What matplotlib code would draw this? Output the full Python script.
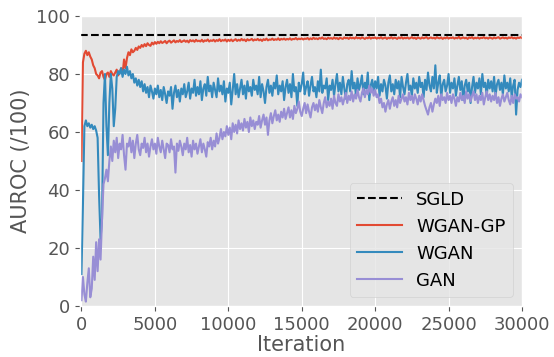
import numpy as np
import matplotlib
matplotlib.use("Agg")
import matplotlib.pyplot as plt

plt.style.use("ggplot")

iterations = np.arange(0, 30001, 100)

sgld_value = 93.3

wgan_gp = [
    50, 84, 87, 88, 86.5, 87.5, 86, 85, 83, 82,
    80, 79.5, 78.5, 80.5, 81, 79, 78, 80, 80.5, 79,
    81, 80, 79.5, 80.5, 81.5, 79.5, 80.5, 82, 80, 85,
    82, 85.5, 87.5, 86.5, 88.5, 87.5, 88, 89, 88.3, 89.5,
    89, 90, 89.4, 90.3, 89.6, 90.6, 90, 89.7, 90.8, 90.2,
    91, 90.4, 91.1, 90.6, 91.3, 90.7, 91, 91.4, 90.6, 91.2,
    91.5, 90.8, 91.2, 91.6, 90.9, 91.4, 91.1, 91.7, 91, 91.3,
    91.6, 91.1, 91.5, 90.9, 91.7, 91.3, 91.6, 91.1, 91.8, 91.3,
    91.5, 91.2, 91.8, 91.1, 91.6, 91.4, 91.9, 91.2, 91.6, 91.4,
    91.8, 91.2, 91.7, 91.4, 92, 91.3, 91.7, 91.5, 91.9, 91.2,
    91.8, 91.4, 91.9, 91.3, 91.7, 92, 91.4, 91.8, 91.5, 92.1,
    91.6, 91.9, 91.3, 92, 91.6, 91.8, 92.1, 91.5, 91.9, 91.7,
    92.1, 91.6, 91.9, 91.4, 92, 91.7, 92.2, 91.6, 91.9, 91.8,
    92.2, 91.7, 92, 91.8, 92.3, 91.7, 92.1, 91.9, 92.2, 91.8,
    92.1, 91.9, 92.3, 91.8, 92.1, 92, 92.4, 91.9, 92.2, 92,
    92.3, 91.9, 92.2, 92.1, 92.4, 91.9, 92.3, 92, 92.5, 92.1,
    92.3, 92, 92.4, 92.2, 92.6, 92.1, 92.3, 92, 92.5, 92.2,
    92.4, 92.1, 92.6, 92.2, 92.4, 92, 92.5, 92.3, 92.1, 92.6,
    92.3, 92.5, 92.1, 92.6, 92.3, 92.5, 92.2, 92.7, 92.3, 92.5,
    92.2, 92.6, 92.4, 92.1, 92.5, 92.3, 92.7, 92.2, 92.5, 92.4,
    92.6, 92.2, 92.5, 92.3, 92.7, 92.2, 92.4, 92.6, 92.1, 92.5,
    92.3, 92.7, 92.2, 92.5, 92.4, 92.1, 92.6, 92.3, 92.7, 92.2,
    92.5, 92.3, 92.6, 92.2, 92.4, 92.7, 92.3, 92.5, 92.1, 92.6,
    92.4, 92.2, 92.6, 92.3, 92.5, 92.7, 92.2, 92.4, 92.6, 92.3,
    92.5, 92.2, 92.7, 92.4, 92.3, 92.6, 92.1, 92.5, 92.3, 92.7,
    92.2, 92.5, 92.4, 92.6, 92.2, 92.5, 92.3, 92.8, 92.2, 92.4,
    92.6, 92.3, 92.5, 92.1, 92.6, 92.4, 92.7, 92.2, 92.5, 92.3,
    92.6, 92.2, 92.5, 92.4, 92.7, 92.3, 92.5, 92.2, 92.6, 92.4,
    92.2, 92.6, 92.3, 92.5, 92.7, 92.2, 92.4, 92.6, 92.3, 92.5,
    92.2, 92.6, 92.4, 92.7, 92.3, 92.5, 92.2, 92.6, 92.4, 92.7,
    92.4,
]

wgan = [
    11, 35, 62, 64, 62, 63, 61.5, 62.5, 61, 62,
    60.5, 58, 38, 23, 30, 70, 80, 62, 52, 70,
    80, 75, 62, 68, 79, 81, 80, 82, 79, 81.5,
    80, 82.5, 79.5, 81, 78.5, 80, 77, 78.5, 76, 78,
    75.5, 77.5, 74, 76.5, 73.5, 75.5, 72, 76, 74, 71.5,
    75, 73, 76, 72, 74.5, 71, 75.5, 73, 70, 74,
    72.5, 75.5, 68, 73.5, 76, 72, 74.5, 70.5, 75, 73,
    76.5, 72, 74, 77, 71.5, 75, 73.5, 78, 72.5, 75.5,
    73, 77.5, 71, 75, 76.5, 72.5, 79, 74, 76, 72,
    77, 74.5, 72, 78.5, 74, 76, 73, 77.5, 70.5, 75,
    73.5, 77, 69.5, 74.5, 80, 73, 76.5, 72, 75, 78,
    73, 76, 71.5, 77.5, 74, 75.5, 72.5, 78, 74.5, 76,
    73, 79, 72, 76.5, 74, 70, 75.5, 78, 73.5, 76,
    72.5, 77, 75, 79.5, 73, 76, 74, 77.5, 71, 75.5,
    78, 73.5, 76.5, 72, 80, 74, 75.5, 69, 77, 74,
    76.5, 80.5, 73, 75.5, 77.5, 72.5, 76, 79, 74, 75.5,
    72, 77.5, 74, 81.5, 73.5, 76, 75, 78.5, 71, 76,
    74.5, 78, 72.5, 76.5, 80, 74, 77, 73, 79, 75,
    71.5, 76.5, 78, 74, 81, 75, 77, 72.5, 78.5, 74.5,
    76.5, 79.5, 73, 77, 75, 80.5, 71, 76, 78, 74,
    77.5, 75, 79, 72.5, 76.5, 74, 78, 76, 71.5, 77,
    79.5, 74, 76.5, 73, 78, 75, 77.5, 72, 79, 75.5,
    73, 77, 80, 74.5, 76, 72.5, 78.5, 75, 77, 73.5,
    79, 75.5, 77, 72, 78, 74.5, 80.5, 76, 74, 79,
    75, 83, 73.5, 77, 79.5, 72, 76.5, 78, 74, 76,
    80, 73.5, 77, 75, 78.5, 72.5, 76, 79, 74.5, 77.5,
    71, 76, 78, 74, 77, 70, 75.5, 79, 73.5, 77,
    75, 78.5, 73, 80, 75.5, 77, 72.5, 78, 75, 77.5,
    74, 79, 72.5, 76.5, 78, 74.5, 77, 73, 79.5, 75,
    77, 74, 78.5, 72, 76, 78, 66, 74.5, 77, 75.5,
    78,
]

gan = [
    2, 10, 4, 1.5, 8, 13, 3, 6, 17, 9,
    22, 12, 23, 16, 30, 42, 44, 47, 43, 50,
    55, 50, 57, 53, 58, 51, 56, 54, 59, 52,
    47, 56, 55, 58, 53, 57, 51, 56, 59, 54,
    52, 56, 54.5, 58, 53, 56, 51.5, 55, 57.5, 54,
    56, 52.5, 58, 55, 53, 57, 54, 51, 56, 55.5,
    53, 57.5, 54, 55, 46, 56, 53.5, 57, 55, 52,
    56, 54, 58, 53, 55.5, 51.5, 57, 54, 56, 52.5,
    55, 57.5, 53, 56, 54, 51.5, 56.5, 55, 58, 54,
    57, 55, 59.5, 56, 58, 61, 57.5, 60, 58.5, 62,
    59, 61.5, 57.5, 63, 60, 62.5, 59.5, 64, 61, 63,
    60.5, 64.5, 61.5, 63.5, 60, 65, 62, 64, 61, 63.5,
    62.5, 65.5, 61.5, 64, 66, 62.5, 65, 59, 64, 66.5,
    63, 65.5, 67.5, 64, 66, 63.5, 67, 65, 68, 64.5,
    66.5, 68.5, 65, 67.5, 64.5, 69, 66.5, 68, 70.5, 67,
    65.5, 68, 70, 66.5, 69.5, 67, 65, 68.5, 70, 67.5,
    69.5, 67, 71, 68.5, 66.5, 70, 72, 68.5, 70.5, 69,
    71.5, 68, 72.5, 70, 69, 73, 70.5, 72, 69.5, 71.5,
    73.5, 70, 72.5, 71, 74, 70.5, 73, 71.5, 74.5, 72,
    70.5, 73.5, 75, 72, 74.5, 73, 76, 73.5, 75, 72.5,
    74.5, 72, 73, 70, 71.5, 68.5, 70, 67, 69.5, 71,
    68, 70.5, 72, 69, 71, 68.5, 72.5, 70, 71.5, 73,
    70.5, 72, 69.5, 73.5, 71, 72.5, 70, 73, 71.5, 69.5,
    72.5, 70.5, 73, 71, 69, 67.5, 66, 68.5, 70, 67,
    69.5, 71.5, 70, 72.5, 69, 73, 71, 72, 70, 73.5,
    71, 72.5, 70, 73, 71.5, 69, 72, 70.5, 73.5, 71,
    72.5, 70, 74, 71.5, 73, 70.5, 72.5, 74, 71, 73,
    70, 72.5, 71, 73.5, 69.5, 72, 74, 71, 73, 70.5,
    72.5, 71, 73.5, 70, 72, 69, 71.5, 73, 70.5, 72,
    73.5, 71, 69.5, 72.5, 70, 73, 71.5, 72, 70.5, 73,
    72,
]

fig = plt.figure(figsize=(5.54, 3.57), dpi=100)
ax = fig.add_axes([0.1444, 0.1429, 0.7978, 0.8123])

ax.axhline(sgld_value, color="black", linestyle="--", linewidth=1.5, label="SGLD")
ax.plot(iterations, wgan_gp, color="#E24A33", linewidth=1.5, label="WGAN-GP")
ax.plot(iterations, wgan, color="#348ABD", linewidth=1.5, label="WGAN")
ax.plot(iterations, gan, color="#988ED5", linewidth=1.5, label="GAN")

ax.set_xlim(-100, 30000)
ax.set_ylim(0, 100)
ax.set_xticks([0, 5000, 10000, 15000, 20000, 25000, 30000])
ax.set_yticks([0, 20, 40, 60, 80, 100])
ax.tick_params(axis="both", labelsize=13)
ax.set_xlabel("Iteration", fontsize=15, labelpad=1)
ax.set_ylabel("AUROC (/100)", fontsize=15, labelpad=4)

leg = ax.legend(loc="lower right", fontsize=13, handlelength=2.5)
for t in leg.get_texts():
    t.set_color("black")

fig.savefig("out.png", dpi=100)
